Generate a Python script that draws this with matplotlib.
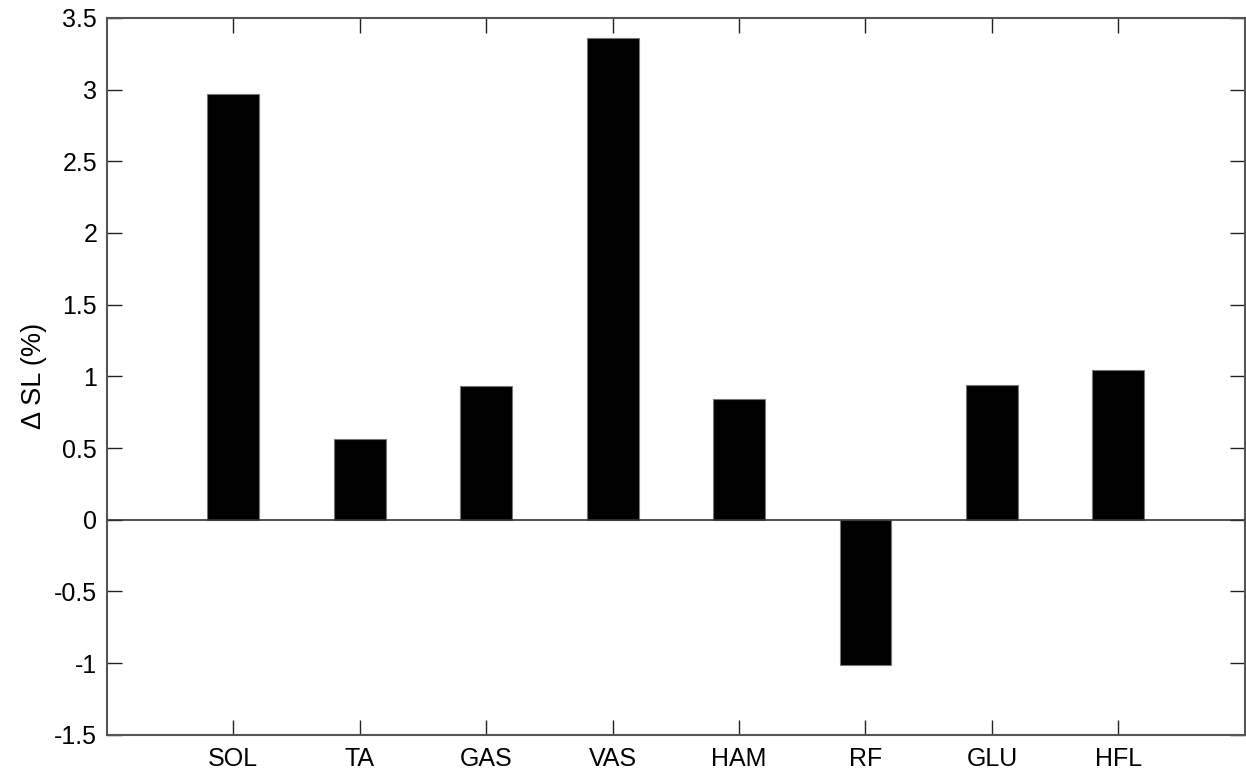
import numpy as np
import matplotlib.pyplot as plt

plt.rcParams['font.family'] = ['Liberation Sans', 'DejaVu Sans']

# muscle groups and change in stride length (%)
muscles = ['SOL', 'TA', 'GAS', 'VAS', 'HAM', 'RF', 'GLU', 'HFL']
delta_sl = [2.97, 0.565, 0.935, 3.36, 0.84, -1.015, 0.94, 1.045]

yticks = [-1.5, -1, -0.5, 0, 0.5, 1, 1.5, 2, 2.5, 3, 3.5]
ytick_labels = ['-1.5', '-1', '-0.5', '0', '0.5', '1', '1.5', '2', '2.5', '3', '3.5']

fig = plt.figure(figsize=(12.46, 7.75), dpi=100)
ax = fig.add_axes([0.0858, 0.052, 0.9132, 0.9248])

x = np.arange(1, len(muscles) + 1)
ax.bar(x, delta_sl, width=0.41, color='black', edgecolor='#777777', linewidth=0.8, zorder=2)
ax.axhline(0, color='#333333', linewidth=1.2, zorder=3)

ax.set_xlim(0, len(muscles) + 1)
ax.set_ylim(-1.5, 3.5)
ax.set_xticks(x)
ax.set_xticklabels(muscles)
ax.set_yticks(yticks)
ax.set_yticklabels(ytick_labels)

ax.tick_params(direction='in', length=11, width=1, colors='#222222',
               labelsize=18, labelcolor='black', top=True, right=True)
ax.tick_params(axis='x', pad=9)
ax.tick_params(axis='y', pad=7)
for s in ax.spines.values():
    s.set_color('#555555')
    s.set_linewidth(1.5)

ax.set_ylabel('\u0394 SL (%)', fontsize=19.5, labelpad=5)

fig.savefig('out.png', dpi=100)
